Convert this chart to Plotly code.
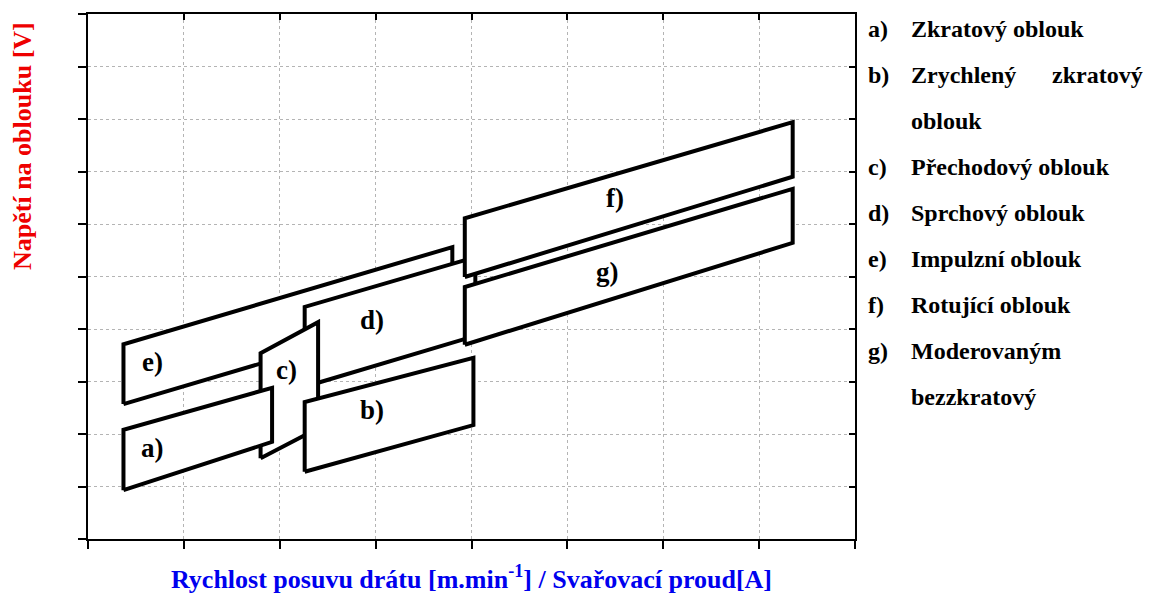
import plotly.graph_objects as go

# Data (axis units: x 0..8, y 0..10)
shape_names = ["e)", "d)", "c)", "a)", "b)", "f)", "g)"]
shape_x = {
    "e)": [0.37, 0.37, 3.80, 3.80],
    "d)": [2.26, 2.26, 4.04, 4.04],
    "c)": [1.80, 1.80, 2.40, 2.40],
    "a)": [0.37, 0.37, 1.92, 1.92],
    "b)": [2.26, 2.26, 4.02, 4.02],
    "f)": [3.93, 3.93, 7.35, 7.35],
    "g)": [3.93, 3.93, 7.35, 7.35],
}
shape_y = {
    "e)": [2.57, 3.71, 5.56, 4.42],
    "d)": [2.90, 4.42, 5.37, 3.87],
    "c)": [1.54, 3.54, 4.13, 2.11],
    "a)": [0.93, 2.08, 2.88, 1.85],
    "b)": [1.28, 2.61, 3.45, 2.17],
    "f)": [4.99, 6.11, 7.94, 6.90],
    "g)": [3.70, 4.80, 6.67, 5.64],
}
label_x = {"a)": 0.67, "b)": 2.96, "c)": 2.07, "d)": 2.96, "e)": 0.67, "f)": 5.50, "g)": 5.42}
label_y = {"a)": 1.73, "b)": 2.46, "c)": 3.22, "d)": 4.17, "e)": 3.37, "f)": 6.50, "g)": 5.09}

legend_keys = ["a)", "b)", "", "c)", "d)", "e)", "f)", "g)", ""]
legend_texts = ["Zkratový oblouk", "Zrychlený", "oblouk", "Přechodový oblouk",
                "Sprchový oblouk", "Impulzní oblouk", "Rotující oblouk",
                "Moderovaným", "bezzkratový"]

x_title = "Rychlost posuvu drátu [m.min<sup>-1</sup>] / Svařovací proud[A]"
y_title = "Napětí na oblouku [V]"

FONT = "Liberation Serif, Times New Roman, serif"

fig = go.Figure()
for n in shape_names:
    fig.add_trace(go.Scatter(
        x=shape_x[n] + [shape_x[n][0]], y=shape_y[n] + [shape_y[n][0]],
        mode="lines", fill="toself", fillcolor="white",
        line=dict(color="black", width=4), hoverinfo="skip", showlegend=False))

# dummy trace for the mirrored axes
fig.add_trace(go.Scatter(x=[0], y=[0], xaxis="x2", yaxis="y2", mode="markers",
                         marker=dict(opacity=0), showlegend=False, hoverinfo="skip"))

for n in shape_names:
    fig.add_annotation(x=label_x[n], y=label_y[n], text="<b>%s</b>" % n, showarrow=False,
                       font=dict(family=FONT, size=27, color="black"))

L, R, T, B = 88, 855, 14, 539
W = R - L
H = B - T
def px(xp):
    return (xp - L) / W
def py(yp):
    return (B - yp) / H

leg_y = [29, 75, 121, 167, 213, 259, 305, 351, 397]
for k, t, yy in zip(legend_keys, legend_texts, leg_y):
    if k:
        fig.add_annotation(xref="paper", yref="paper", x=px(866), y=py(yy), text="<b>%s</b>" % k,
                           showarrow=False, xanchor="left", yanchor="middle",
                           font=dict(family=FONT, size=24, color="black"))
    fig.add_annotation(xref="paper", yref="paper", x=px(909), y=py(yy), text="<b>%s</b>" % t,
                       showarrow=False, xanchor="left", yanchor="middle",
                       font=dict(family=FONT, size=24, color="black"))
fig.add_annotation(xref="paper", yref="paper", x=px(1145), y=py(75), text="<b>zkratový</b>",
                   showarrow=False, xanchor="right", yanchor="middle",
                   font=dict(family=FONT, size=24, color="black"))

fig.add_annotation(xref="paper", yref="paper", x=px(22), y=py(146), text="<b>%s</b>" % y_title,
                   textangle=-90, showarrow=False, xanchor="center", yanchor="middle",
                   font=dict(family=FONT, size=26, color="#ee0000"))
fig.add_annotation(xref="paper", yref="paper", x=px(471), y=py(577), text="<b>%s</b>" % x_title,
                   showarrow=False, xanchor="center", yanchor="middle",
                   font=dict(family=FONT, size=26, color="#0000ee"))

grid = dict(showgrid=True, gridcolor="#b4b4b4", gridwidth=1, griddash="dot")
fig.update_layout(
    width=1157, height=594,
    margin=dict(l=L, r=1157 - R, t=T, b=594 - B),
    plot_bgcolor="white", paper_bgcolor="white",
    showlegend=False,
    xaxis=dict(range=[0, 8], dtick=1, tick0=0, showticklabels=False, ticks="outside",
               ticklen=8, tickwidth=2, tickcolor="black", showline=True, linecolor="black",
               linewidth=2, zeroline=False, fixedrange=True, **grid),
    yaxis=dict(range=[0, 10], dtick=1, tick0=0, showticklabels=False, ticks="outside",
               ticklen=8, tickwidth=2, tickcolor="black", showline=True, linecolor="black",
               linewidth=2, zeroline=False, fixedrange=True, **grid),
    xaxis2=dict(range=[0, 8], dtick=1, tick0=0, overlaying="x", side="top", anchor="y",
                showticklabels=False, ticks="inside", ticklen=6, tickwidth=2, tickcolor="black",
                showline=True, linecolor="black", linewidth=2, showgrid=False, zeroline=False,
                fixedrange=True),
    yaxis2=dict(range=[0, 10], dtick=1, tick0=0, overlaying="y", side="right", anchor="x",
                showticklabels=False, ticks="inside", ticklen=6, tickwidth=2, tickcolor="black",
                showline=True, linecolor="black", linewidth=2, showgrid=False, zeroline=False,
                fixedrange=True),
)

fig.write_html("out.html", config={"displayModeBar": False},
               post_script="document.body.style.margin='0';document.body.style.overflow='hidden';")
